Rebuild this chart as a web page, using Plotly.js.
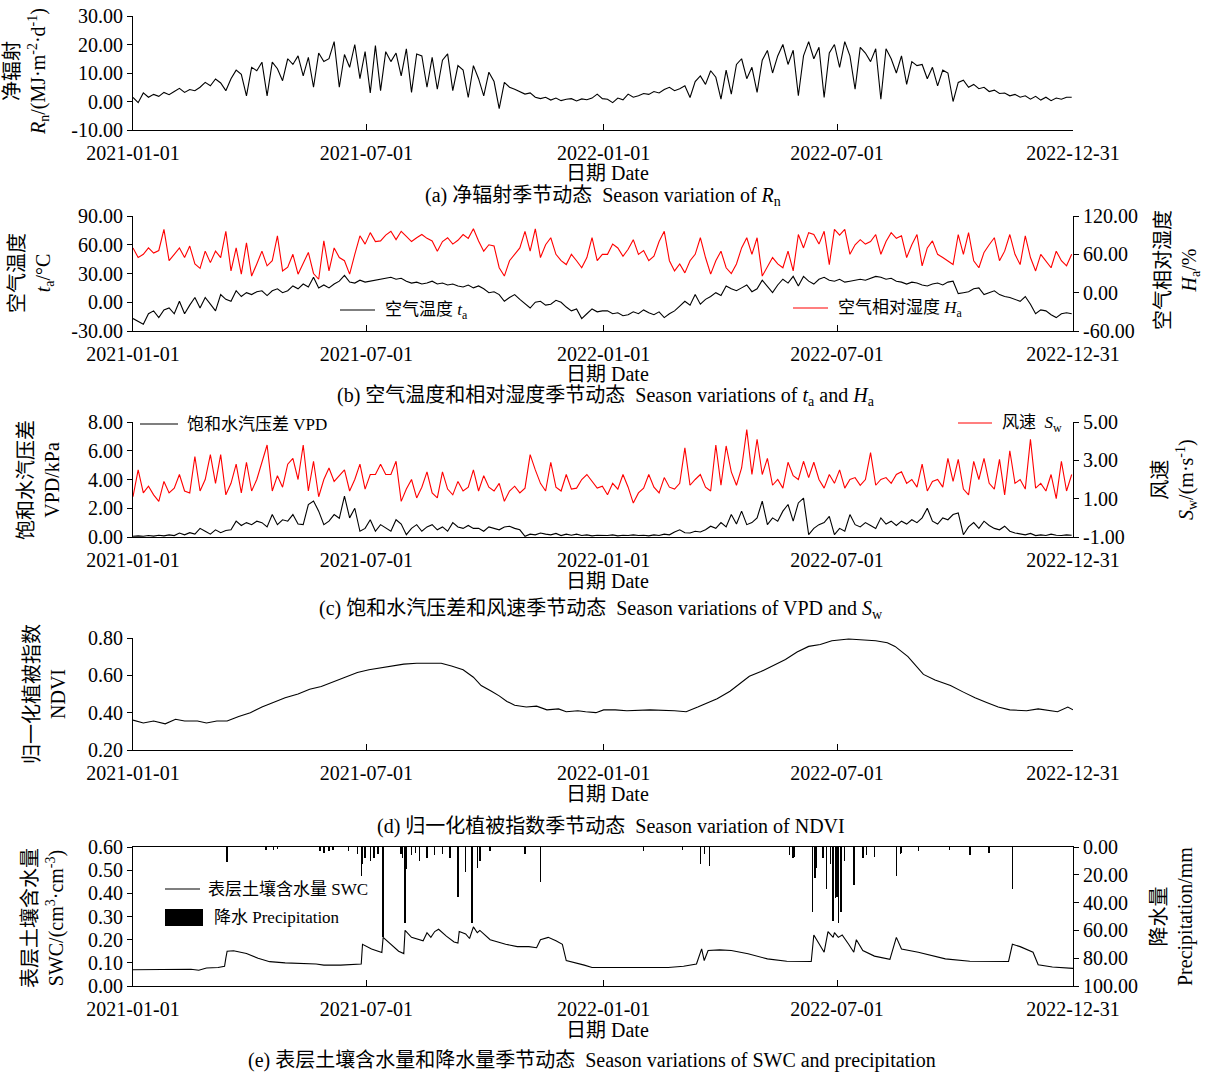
<!DOCTYPE html>
<html><head><meta charset="utf-8">
<script src="https://cdn.plot.ly/plotly-3.0.1.min.js"></script>
<style>html,body{margin:0;padding:0;background:#fff}#chart{width:1209px;height:1072px}</style>
</head><body><div id="chart"></div>
<script>
const START = '2021-01-01';
const STEP_DAYS = 4;

const rn2021 = [1.4,-0.4,3.0,1.5,2.5,1.8,3.2,2.4, 3.5,4.6,3.2,4.2,3.8,5.0,6.7,5.5, 7.9,6.5,3.8,8.0,11.0,9.5,2.0,12.0,
  10.8,13.8,2.0,13.8,11.5,7.3,15.0,13.0, 16.0,9.0,15.5,5.0,17.0,14.0,15.0,21.0, 5.0,16.5,12.0,20.0,8.0,17.5,3.0,19.6,
  3.8,17.5,14.0,17.0,9.0,18.5,3.2,16.7, 16.0,5.0,15.5,4.3,14.5,16.7,3.8,12.6, 11.0,1.4,12.6,8.0,2.0,10.3,7.0,-2.5,
  6.7,5.0,4.3,3.5,2.6,3.0,1.5,1.0, 1.5,0.5,1.2,0.3,0.8,1.0,0.2,0.9, 0.6,1.2,2.6,1.0];
const rn2022 = [0.8,-0.4,1.2,0.6,2.6,1.5,2.0,2.8, 2.5,3.5,3.0,4.2,5.0,3.8,4.5,5.5, 1.4,7.0,9.0,6.0,10.8,8.5,0.8,11.0,
  2.6,13.0,15.0,8.0,12.0,3.2,14.5,17.9, 10.0,16.0,20.0,13.0,18.0,2.0,16.0,21.0, 15.0,19.0,1.4,17.0,20.0,12.0,21.0,16.0,
  4.3,19.0,17.0,14.0,18.5,0.8,18.5,15.0, 10.0,16.0,6.0,14.0,12.6,13.0,8.0,12.0, 5.5,11.0,10.0,0.0,6.7,7.5,5.0,6.0,
  4.5,5.0,3.5,4.0,2.8,3.0,2.0,2.5, 1.5,2.0,0.8,1.8,0.5,1.5,0.3,1.2, 0.8,1.5,1.5];

const ta2021 = [-17,-20,-23,-12,-9,-16,-8,-6, -12,1,-12,-3,5,-6,5,-2, -9,8,3,1,12,6,10,8, 11,12,7,12,14,10,12,17,
  14,19,16,26,15,18,15,19, 22,28,21,20,23,21,22,23, 24,25,26,24,25,22,20,21, 19,20,22,19,20,18,19,17,
  16,18,15,17,14,10,11,8, 1,5,8,3,-2,-6,0,1, -3,-2,2,0,-5,-9,-7,-17, -12,-7,-10,-9];
const ta2022 = [-9,-12,-11,-14,-13,-10,-12,-8, -11,-13,-10,-16,-12,-9,-4,1, -3,8,-2,3,6,10,7,17, 14,12,15,18,11,14,23,16,
  10,18,24,20,27,17,27,22, 19,24,26,23,22,24,21,22, 23,24,23,25,27,26,24,25, 22,21,19,21,20,18,17,19,
  20,18,21,22,9,10,11,14, 15,8,10,12,8,6,5,3, 1,6,-2,-12,-8,-9,-13,-16, -12,-11,-12];

const ha2021 = [70,55,60,70,62,66,99,50, 60,70,55,73,45,38,65,47, 65,55,96,34,70,29,78,26, 45,65,42,50,89,34,40,60,
  29,45,63,30,21,81,34,70, 55,50,29,60,89,76,94,80, 81,90,96,83,96,88,80,86, 91,85,81,65,80,86,76,82,
  91,85,100,81,65,75,73,39, 26,50,60,70,96,65,100,55, 75,86,60,50,44,60,50,39, 55,86,50,60];
const ha2022 = [60,76,70,57,68,83,60,66, 50,57,80,96,50,34,45,31, 50,60,86,55,29,50,65,39, 30,45,70,86,60,86,26,40,
  55,45,39,65,34,91,70,94, 91,76,96,44,99,90,99,60, 75,83,76,80,91,60,80,94, 85,89,55,75,91,42,70,81,
  60,55,50,44,91,60,94,50, 39,63,75,86,50,65,91,60, 44,89,55,34,60,50,39,65, 50,42,60];

const vpd2021 = [0.05,0.08,0.05,0.1,0.06,0.12,0.08,0.15, 0.1,0.28,0.15,0.3,0.2,0.6,0.4,0.2, 0.5,0.3,0.45,0.5,1.1,0.8,1.0,0.86,
  1.1,1.0,0.7,1.56,0.86,1.2,1.1,1.56, 0.9,0.86,2.26,2.5,1.8,0.86,1.1,1.56, 1.3,2.84,1.33,2.0,0.4,0.6,1.2,0.4,
  0.86,0.6,0.4,1.2,0.9,0.16,0.6,0.86, 0.4,0.7,0.86,0.5,0.7,0.4,1.0,0.7, 0.6,0.8,0.6,0.6,0.4,0.7,0.6,0.5,
  0.7,0.75,0.6,0.5,0.05,0.2,0.15,0.28, 0.2,0.15,0.25,0.1,0.2,0.12,0.2,0.1, 0.15,0.08,0.12,0.1];
const vpd2022 = [0.1,0.15,0.08,0.12,0.1,0.15,0.1,0.12, 0.08,0.15,0.1,0.2,0.15,0.35,0.5,0.3, 0.28,0.4,0.35,0.5,0.75,0.6,1.0,0.7,
  1.56,0.9,1.8,0.86,1.0,1.33,2.5,0.86, 1.33,1.1,1.8,2.26,1.1,2.37,2.7,0.16, 0.6,0.86,1.0,1.44,0.16,0.6,0.4,1.56,
  0.86,0.7,1.0,0.8,0.6,1.33,0.9,1.1, 0.8,1.1,0.9,1.2,1.0,1.33,2.0,1.1, 0.9,1.33,1.2,1.56,1.67,0.16,0.7,1.0,
  0.6,1.1,0.8,0.6,0.5,0.75,0.4,0.28, 0.2,0.15,0.25,0.1,0.15,0.1,0.2,0.12, 0.1,0.15,0.12];

const sw2021 = [1.1,2.5,1.3,1.65,1.2,0.86,1.9,1.3, 1.55,2.26,1.4,1.3,3.2,1.4,2.0,3.3, 1.8,3.3,1.2,1.8,2.8,1.3,2.9,1.4,
  2.0,2.95,3.8,1.4,2.2,1.6,2.8,3.1, 2.0,3.8,1.4,2.95,1.1,2.0,2.6,1.9, 2.2,2.5,1.4,2.0,2.8,1.5,2.26,2.26,
  2.8,2.26,2.26,2.95,0.86,1.5,2.0,1.04, 1.6,2.4,1.3,1.04,2.4,1.5,1.2,1.9, 1.4,1.6,2.5,1.4,2.2,1.6,1.4,1.8,
  0.86,1.4,1.65,1.3,1.55,3.3,2.5,1.8, 1.4,2.9,1.6,1.4,2.26,1.5,1.55,2.0, 2.26,1.9,1.55,1.65];
const sw2022 = [1.2,1.8,1.5,2.26,1.6,0.77,1.3,1.55, 2.26,1.6,1.3,2.1,1.6,1.5,1.8,3.65, 1.7,2.0,2.26,1.6,1.4,3.8,1.7,3.75,
  2.4,1.7,2.6,4.6,2.26,4.1,2.26,3.1, 1.7,2.0,1.55,2.9,2.2,2.0,2.95,2.1, 2.9,2.0,1.55,2.26,1.8,2.5,1.55,2.0,
  2.1,1.7,2.0,3.4,1.7,2.0,2.1,1.8, 2.26,2.4,1.8,2.0,1.6,2.8,1.4,1.9, 2.0,1.6,3.1,1.9,3.05,1.5,1.2,2.95,
  2.0,3.1,1.8,1.5,3.05,1.2,3.5,1.8, 2.0,1.5,4.1,1.55,1.8,1.4,2.26,1.0, 2.95,1.4,2.26];

// NDVI: day offset from 2021-01-01 and value
const ndviDay = [0,8,16,25,33,40,50,57,65,73,82,91,100,109,118,128,137,146,155,164,174,183,192,201,210,220,229,239,247,256,264,270,
  278,284,290,296,305,313,321,330,336,345,351,359,365,374,383,401,420,429,438,453,463,472,478,487,496,506,515,524,533,542,555,
  567,576,585,591,601,613,622,634,644,653,662,671,680,693,702,711,717,725,729];
const ndviVal = [0.36,0.345,0.355,0.34,0.365,0.355,0.355,0.345,0.355,0.355,0.38,0.40,0.43,0.455,0.48,0.50,0.525,0.54,0.565,0.59,0.615,0.63,0.64,0.65,0.66,0.665,0.665,0.665,0.65,0.63,0.59,0.545,
  0.515,0.49,0.46,0.44,0.43,0.435,0.415,0.42,0.405,0.41,0.405,0.40,0.415,0.415,0.41,0.415,0.41,0.405,0.43,0.475,0.515,0.565,0.595,0.62,0.65,0.685,0.725,0.755,0.765,0.785,0.795,
  0.79,0.785,0.775,0.755,0.70,0.605,0.575,0.545,0.51,0.48,0.455,0.43,0.415,0.41,0.42,0.41,0.405,0.43,0.415];

// SWC: day offset and value (cm3/cm3)
const swcDay = [0,20,45,51,57,66,71,72,73,78,88,97,106,118,130,142,148,161,177,178,185,193,194,200,206,210,211,216,225,228,231,234,237,243,249,252,253,258,261,264,267,269,277,289,298,307,313,316,322,328,333,336,344,350,356,
  365,384,415,427,437,441,443,446,455,464,477,492,507,526,528,536,539,543,544,547,550,555,559,561,566,575,587,592,596,609,630,649,679,682,688,698,702,713,729];
const swcVal = [0.07,0.07,0.072,0.068,0.078,0.08,0.085,0.12,0.15,0.152,0.14,0.12,0.105,0.10,0.099,0.095,0.09,0.09,0.095,0.18,0.16,0.145,0.21,0.18,0.15,0.14,0.24,0.21,0.195,0.23,0.21,0.235,0.245,0.215,0.19,0.185,0.235,0.225,0.205,0.255,0.23,0.24,0.20,0.18,0.17,0.17,0.165,0.20,0.21,0.195,0.18,0.11,0.10,0.09,0.08,
  0.08,0.08,0.08,0.085,0.095,0.16,0.11,0.153,0.156,0.153,0.139,0.117,0.107,0.106,0.22,0.146,0.235,0.21,0.23,0.21,0.22,0.18,0.146,0.2,0.153,0.129,0.115,0.21,0.16,0.146,0.117,0.107,0.106,0.18,0.17,0.146,0.092,0.082,0.076];

// Precipitation: day offset and amount (mm)
const precipDay = [73,103,109,112,145,148,152,155,167,174,177,178,180,184,187,190,194,208,209,211,212,216,219,222,228,234,240,246,252,258,263,267,269,277,304,316,
  396,426,440,443,447,509,512,513,527,529,530,535,538,541,543,545,546,547,549,552,559,566,569,575,592,595,596,609,633,649,664,682];
const precipVal = [11,2,2,1.5,3,4,3,2,3,5,21,12,8,10,8,5,65,5,8,55,16,6,4,10,8,6,5,8,36,18,55,15,10,3,5,25,
  3,2,12,5,14,6,8,7,47,22,15,8,30,12,53,37,36,55,47,10,27,8,6,7,21,5,4,3,2,6,4,30];

// Ticks
const dateTickVals = ['2021-01-01','2021-07-01','2022-01-01','2022-07-01','2022-12-31'];
const dateTickText = ['2021-01-01','2021-07-01','2022-01-01','2022-07-01','2022-12-31'];
const rnTicks = [-10,0,10,20,30];
const taTicks = [-30,0,30,60,90];
const haTicks = [-60,0,60,120];
const vpdTicks = [0,2,4,6,8];
const swTicks = [-1,1,3,5];
const ndviTicks = [0.2,0.4,0.6,0.8];
const swcTicks = [0,0.1,0.2,0.3,0.4,0.5,0.6];
const precipTicks = [0,20,40,60,80,100];

// ---------- helpers ----------
const W = 1209, H = 1072;
const px = v => v / W, py = v => 1 - v / H;
const FONT = 'Liberation Serif, "Noto Sans CJK SC", serif';
const T0 = Date.UTC(2021, 0, 1);
const dayToDate = d => new Date(T0 + d * 86400000).toISOString().slice(0, 10);
const regDates = n => Array.from({length: n}, (_, i) => dayToDate(i * STEP_DAYS));
const fmt = a => a.map(v => v.toFixed(2));

const rn = rn2021.concat(rn2022), ta = ta2021.concat(ta2022), ha = ha2021.concat(ha2022);
const vpd = vpd2021.concat(vpd2022), sw = sw2021.concat(sw2022);

const XD = [px(133), px(1073)];
function xAxis(anchor, ticks, mirror) {
  return {domain: XD, anchor, type: 'date', range: ['2021-01-01', '2022-12-31'],
    tickmode: 'array', tickvals: dateTickVals, ticktext: dateTickText,
    ticks: ticks, ticklen: 6, tickcolor: '#000', tickwidth: 1,
    showline: true, linecolor: '#000', linewidth: 1, mirror: mirror,
    showgrid: false, zeroline: false, ticklabelstandoff: 5,
    tickfont: {family: FONT, size: 20, color: '#000'}};
}
function yAxis(domain, range, vals, anchor, side, overlaying) {
  const o = {range, tickmode: 'array', tickvals: vals, ticktext: fmt(vals),
    ticks: 'outside', ticklen: 5, tickcolor: '#000', tickwidth: 1,
    showline: true, linecolor: '#000', linewidth: 1, showgrid: false, zeroline: false,
    anchor, side: side || 'left', tickfont: {family: FONT, size: 20, color: '#000'}};
  if (domain) o.domain = domain;
  if (overlaying) o.overlaying = overlaying;
  return o;
}

const BLACK = '#000', RED = 'rgb(255,0,0)';
const ln = (x, y, xa, ya, c) => ({x, y, xaxis: xa, yaxis: ya, type: 'scatter', mode: 'lines',
  line: {color: c, width: 1.1}, hoverinfo: 'skip', showlegend: false});
const D = regDates(rn.length);

const traces = [
  ln(D, rn, 'x', 'y', BLACK),
  ln(regDates(ha.length), ha, 'x2', 'y3', RED),
  ln(regDates(ta.length), ta, 'x2', 'y2', BLACK),
  ln(regDates(sw.length), sw, 'x3', 'y5', RED),
  ln(regDates(vpd.length), vpd, 'x3', 'y4', BLACK),
  ln(ndviDay.map(dayToDate), ndviVal, 'x4', 'y6', BLACK),
  {x: precipDay.map(dayToDate), y: precipVal, type: 'bar', xaxis: 'x5', yaxis: 'y8',
    width: 86400000 * 1.1, marker: {color: '#000', line: {width: 0}}, showlegend: false, hoverinfo: 'skip'},
  ln(swcDay.map(dayToDate), swcVal, 'x5', 'y7', BLACK)
];

const ann = [];
const txt = (x, y, text, o) => ann.push(Object.assign({xref: 'paper', yref: 'paper', x: px(x), y: py(y), text,
  showarrow: false, xanchor: 'center', yanchor: 'middle', font: {family: FONT, size: 20, color: '#000'}}, o || {}));
const rot = (x, y, text) => txt(x, y, text, {textangle: -90});
const leg = (x, y, text) => txt(x, y, text, {xanchor: 'left', font: {family: FONT, size: 17, color: '#000'}});

// axis titles
rot(27, 72, '净辐射<br><i>R</i><sub>n</sub>/(MJ·m<sup>-2</sup>·d<sup>-1</sup>)');
rot(31, 273, '空气温度<br><i>t</i><sub>a</sub>/°C');
rot(1177, 270, '空气相对湿度<br><i>H</i><sub>a</sub>/%');
rot(39, 480, '饱和水汽压差<br>VPD/kPa');
rot(1175, 480, '风速<br><i>S</i><sub>w</sub>/(m·s<sup>-1</sup>)');
rot(45, 694, '归一化植被指数<br>NDVI');
rot(43, 918, '表层土壤含水量<br>SWC/(cm<sup>3</sup>·cm<sup>-3</sup>)');
rot(1172, 917, '降水量<br>Precipitation/mm');

// date labels & captions
[173, 374, 581, 794, 1030].forEach(y => txt(607, y, '日期 Date'));
txt(603, 196, '(a) 净辐射季节动态  Season variation of <i>R</i><sub>n</sub>');
txt(606, 397, '(b) 空气温度和相对湿度季节动态  Season variations of <i>t</i><sub>a</sub> and <i>H</i><sub>a</sub>');
txt(601, 609, '(c) 饱和水汽压差和风速季节动态  Season variations of VPD and <i>S</i><sub>w</sub>');
txt(611, 826, '(d) 归一化植被指数季节动态  Season variation of NDVI');
txt(592, 1060, '(e) 表层土壤含水量和降水量季节动态  Season variations of SWC and precipitation');

// legends
leg(383, 311, '空气温度 <i>t</i><sub>a</sub>');
leg(836, 309, '空气相对湿度 <i>H</i><sub>a</sub>');
leg(185, 425, '饱和水汽压差 VPD');
leg(1000, 424, '风速  <i>S</i><sub>w</sub>');
leg(206, 889, '表层土壤含水量 SWC');
leg(212, 917, '降水 Precipitation');

const hl = (x0, x1, y, c) => ({type: 'line', xref: 'paper', yref: 'paper', x0: px(x0), x1: px(x1), y0: py(y), y1: py(y), line: {color: c, width: 1.2}});
const shapes = [
  hl(340, 375, 310, BLACK), hl(793, 828, 308, RED),
  hl(140, 178, 424, BLACK), hl(958, 992, 423, RED),
  hl(165, 200, 889, BLACK),
  {type: 'rect', xref: 'paper', yref: 'paper', x0: px(165), x1: px(203), y0: py(926), y1: py(909), fillcolor: '#000', line: {width: 0}}
];

const layout = {
  width: W, height: H, autosize: false, margin: {l: 0, r: 0, t: 0, b: 0},
  paper_bgcolor: '#fff', plot_bgcolor: 'rgba(0,0,0,0)', showlegend: false,
  font: {family: FONT, size: 20, color: '#000'},
  xaxis: xAxis('y', 'inside', false),
  yaxis: yAxis([py(130), py(16)], [-10, 30], rnTicks, 'x'),
  xaxis2: xAxis('y2', 'inside', false),
  yaxis2: yAxis([py(331), py(216)], [-30, 90], taTicks, 'x2'),
  yaxis3: yAxis(null, [-60, 120], haTicks, 'x2', 'right', 'y2'),
  xaxis3: xAxis('y4', '', false),
  yaxis4: yAxis([py(537), py(422)], [0, 8], vpdTicks, 'x3'),
  yaxis5: yAxis(null, [-1, 5], swTicks, 'x3', 'right', 'y4'),
  xaxis4: xAxis('y6', 'inside', false),
  yaxis6: yAxis([py(750), py(638)], [0.2, 0.8], ndviTicks, 'x4'),
  xaxis5: xAxis('y7', 'inside', true),
  yaxis7: yAxis([py(986), py(847)], [0, 0.6], swcTicks, 'x5'),
  yaxis8: yAxis(null, [100, 0], precipTicks, 'x5', 'right', 'y7'),
  annotations: ann, shapes: shapes, bargap: 0
};

Plotly.newPlot('chart', traces, layout, {staticPlot: true, displayModeBar: false});
</script></body></html>
